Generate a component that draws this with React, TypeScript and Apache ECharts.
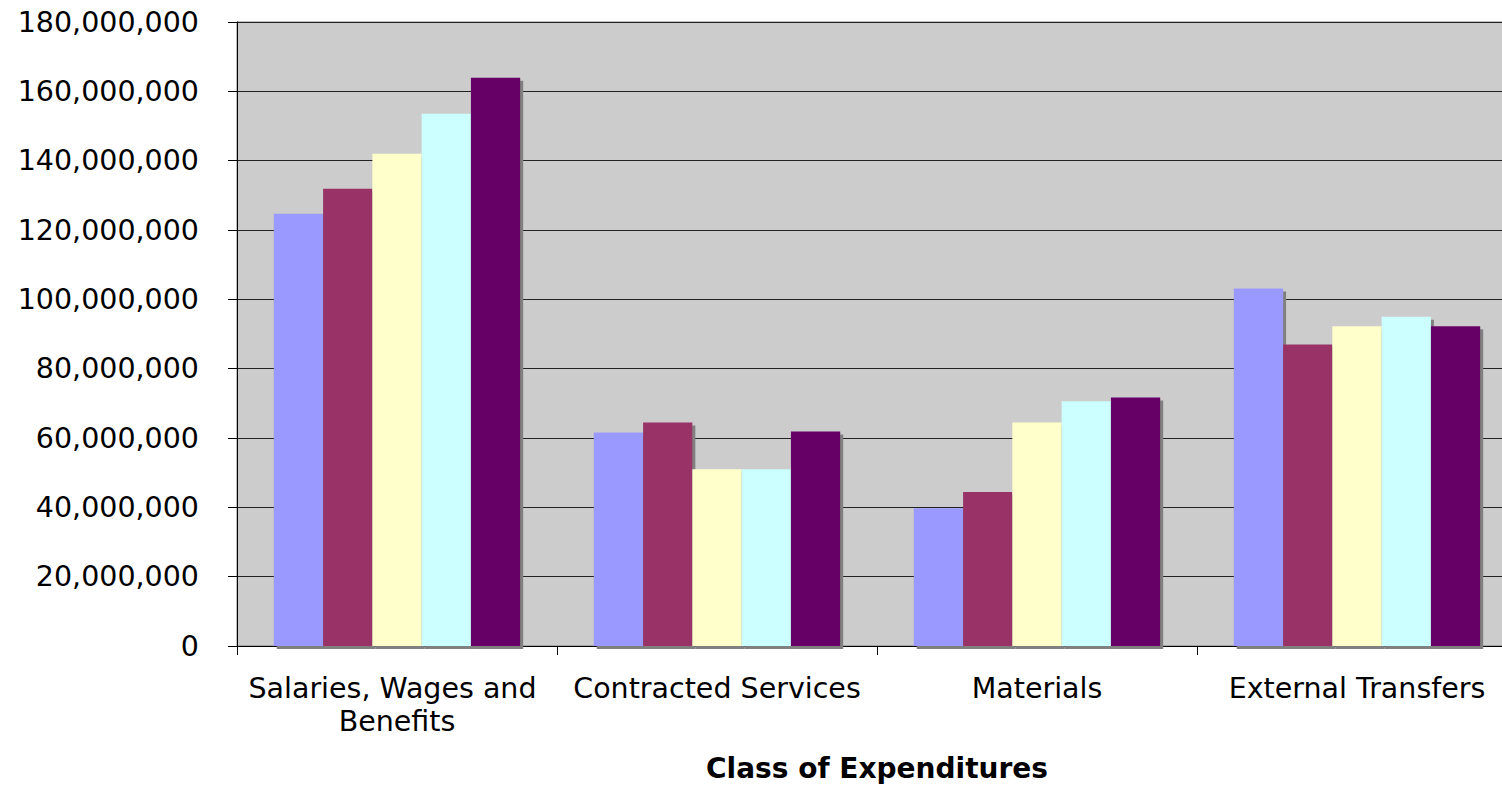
import React, { useEffect, useRef } from "react";
import * as echarts from "echarts";

const categories = [
  "Salaries, Wages and Benefits",
  "Contracted Services",
  "Materials",
  "External Transfers",
];
const seriesNames = ["Series 1", "Series 2", "Series 3", "Series 4", "Series 5"];
const seriesColors = ["#9999FF", "#993366", "#FFFFCC", "#CCFFFF", "#660066"];
const series1 = [124700000, 61600000, 39700000, 103100000];
const series2 = [131900000, 64500000, 44400000, 87000000];
const series3 = [142000000, 51000000, 64500000, 92200000];
const series4 = [153500000, 51000000, 70600000, 95000000];
const series5 = [163900000, 61900000, 71700000, 92200000];
const seriesValues = [series1, series2, series3, series4, series5];
const axisTitle = "Class of Expenditures";

export default function App() {
  const ref = useRef<HTMLDivElement>(null);
  useEffect(() => {
    document.body.style.margin = "0";
    document.body.style.overflow = "hidden";
    const chart = echarts.init(ref.current!, null, { renderer: "svg" });
    const font = "'DejaVu Sans', Verdana, sans-serif";
    chart.setOption({
      animation: false,
      textStyle: { fontFamily: font },
      grid: { left: 237, top: 22, right: 3, bottom: 140, backgroundColor: "#CCCCCC", show: true, borderColor: "#808080", borderWidth: 1 },
      xAxis: {
        type: "category",
        data: categories,
        name: axisTitle,
        nameLocation: "middle",
        nameGap: 108,
        nameTextStyle: { fontFamily: font, fontSize: 28, fontWeight: "bold", color: "#000" },
        axisLine: { lineStyle: { color: "#000", width: 1 } },
        axisTick: { show: true, length: 9, lineStyle: { color: "#000" } },
        axisLabel: {
          fontFamily: font,
          fontSize: 28.5,
          color: "#000",
          margin: 26,
          width: 310,
          overflow: "break",
          lineHeight: 33,
          interval: 0,
        },
      },
      yAxis: {
        type: "value",
        min: 0,
        max: 180000000,
        interval: 20000000,
        axisLine: { show: true, lineStyle: { color: "#000" } },
        axisTick: { show: true, length: 9, lineStyle: { color: "#000" } },
        splitLine: { lineStyle: { color: "#222", width: 1 } },
        axisLabel: {
          fontFamily: font,
          fontSize: 28.5,
          color: "#000",
          margin: 38,
          formatter: (v: number) => v.toLocaleString("en-US"),
        },
      },
      series: seriesValues.map((vals, i) => ({
        name: seriesNames[i],
        type: "bar",
        data: vals,
        barGap: "0%",
        barCategoryGap: "23%",
        itemStyle: {
          color: seriesColors[i],
          shadowColor: "#808080",
          shadowBlur: 0,
          shadowOffsetX: 3,
          shadowOffsetY: 3,
        },
      })),
    });
    return () => chart.dispose();
  }, []);
  return (
    <div style={{ width: 1502, height: 787, overflow: "hidden", position: "relative" }}>
      <div ref={ref} style={{ width: 1520, height: 787 }} />
    </div>
  );
}
